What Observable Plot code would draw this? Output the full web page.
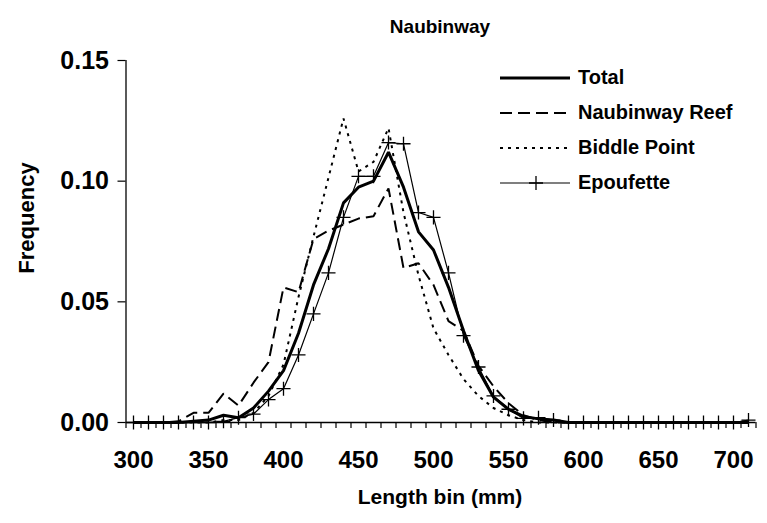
<!DOCTYPE html>
<html><head><meta charset="utf-8">
<script src="https://cdn.jsdelivr.net/npm/d3@7"></script>
<script src="https://cdn.jsdelivr.net/npm/@observablehq/plot@0.6"></script>
<style>
body{margin:0;background:#fff;font-family:"Liberation Sans",Arial,sans-serif;}
#wrap{position:relative;width:767px;height:523px;overflow:hidden;background:#fff}
#title{position:absolute;left:0;width:880px;top:15px;text-align:center;font-weight:bold;font-size:19px;line-height:24px}
#xlabel{position:absolute;left:0;width:880px;top:484px;text-align:center;font-weight:bold;font-size:21px;line-height:26px}
#ylabel{position:absolute;left:27px;top:218px;transform:translate(-50%,-50%) rotate(-90deg);font-weight:bold;font-size:22px;white-space:nowrap}
#legend{position:absolute;left:498px;top:60px}
.row{display:flex;align-items:center;height:35px}
.row span{font-weight:bold;font-size:20px;margin-left:6px;white-space:nowrap}
#chart{position:absolute;left:0;top:0}
</style></head><body>
<div id="wrap"><div id="chart"></div><div id="title">Naubinway</div><div id="xlabel">Length bin (mm)</div><div id="ylabel">Frequency</div><div id="legend"></div></div>
<script>
const bins = [300,310,320,330,340,350,360,370,380,390,400,410,420,430,440,450,460,470,480,490,500,510,520,530,540,550,560,570,580,590,600,610,620,630,640,650,660,670,680,690,700,710];
const total = [0,0,0,0,0.0005,0.001,0.003,0.002,0.006,0.013,0.0215,0.037,0.057,0.072,0.091,0.0975,0.100,0.112,0.0975,0.079,0.0715,0.056,0.038,0.0215,0.0105,0.0055,0.0025,0.0015,0.001,0,0,0,0,0,0,0,0,0,0,0,0,0];
const naubinwayReef = [0,0,0,0.0005,0.004,0.004,0.012,0.007,0.0165,0.025,0.056,0.054,0.076,0.0795,0.082,0.0845,0.0855,0.097,0.064,0.066,0.057,0.042,0.038,0.0235,0.015,0.008,0.003,0.001,0,0,0,0,0,0,0,0,0,0,0,0,0,0];
const biddlePoint = [0,0,0,0,0,0,0.001,0.001,0.004,0.011,0.024,0.052,0.077,0.1015,0.126,0.104,0.108,0.122,0.087,0.061,0.039,0.028,0.018,0.011,0.006,0.003,0.001,0,0,0,0,0,0,0,0,0,0,0,0,0,0,0];
const epoufette = [0,0,0,0,0,0,0.0005,0.002,0.0035,0.0095,0.014,0.028,0.045,0.062,0.085,0.102,0.102,0.116,0.1155,0.087,0.085,0.062,0.036,0.023,0.011,0.0055,0.0017,0.002,0.001,0,0,0,0,0,0,0,0,0,0,0,0,0.001];
const seriesNames = ["Total","Naubinway Reef","Biddle Point","Epoufette"];
const yTicks = [0,0.05,0.10,0.15];
const xTickLabels = [300,350,400,450,500,550,600,650,700];

const styles = {
  "Total": {strokeWidth:3, dash:null},
  "Naubinway Reef": {strokeWidth:2, dash:"12,6"},
  "Biddle Point": {strokeWidth:2, dash:"3,5"},
  "Epoufette": {strokeWidth:1.2, dash:null}
};
const values = {"Total": total, "Naubinway Reef": naubinwayReef, "Biddle Point": biddlePoint, "Epoufette": epoufette};
const rowsOf = name => bins.map((b,i)=>({bin:b, f:values[name][i]}));
const boundaries = bins.map(b=>b-5).concat([bins[bins.length-1]+5]);
const FONT = '"Liberation Sans", Arial, sans-serif';

const lineMarks = seriesNames.map(n => Plot.line(rowsOf(n), {x:"bin", y:"f", stroke:"black", strokeWidth:styles[n].strokeWidth, strokeDasharray:styles[n].dash || undefined, strokeLinejoin:"miter", strokeLinecap:"butt"}));

const chart = Plot.plot({
  width:767, height:523,
  marginLeft:125.5, marginRight:11.5, marginTop:60, marginBottom:101,
  x:{domain:[boundaries[0], boundaries[boundaries.length-1]]},
  y:{domain:[0,0.15]},
  style:{fontFamily:FONT, background:"white", color:"black"},
  marks:[
    Plot.axisY({ticks:yTicks, tickFormat:d3.format(".2f"), tickSize:8, tickPadding:9, fontSize:25, fontWeight:"bold", label:null, strokeWidth:1.2}),
    Plot.axisX({ticks:boundaries, tickSize:6, tickFormat:()=>"", label:null, strokeWidth:1.2}),
    Plot.axisX({ticks:xTickLabels, tickSize:0, tickPadding:28, fontSize:24, fontWeight:"bold", label:null}),
    ...lineMarks,
    Plot.dot(rowsOf("Epoufette"), {x:"bin", y:"f", symbol:"plus", r:4.6, stroke:"black", strokeWidth:1.3}),
    Plot.ruleX([boundaries[0]], {strokeWidth:1.3}),
    Plot.ruleY([0], {strokeWidth:1.3})
  ]
});
document.getElementById("chart").appendChild(chart);

// legend
const legend = document.getElementById("legend");
seriesNames.forEach(n => {
  const row = document.createElement("div"); row.className = "row";
  const s = styles[n];
  const svg = d3.create("svg").attr("width",74).attr("height",20);
  svg.append("line").attr("x1",2).attr("x2",72).attr("y1",10).attr("y2",10)
    .attr("stroke","black").attr("stroke-width",s.strokeWidth).attr("stroke-dasharray",s.dash);
  if (n === "Epoufette") {
    svg.append("path").attr("d",d3.symbol(d3.symbolPlus, Math.PI*4.6*4.6)()).attr("transform","translate(38,10)")
      .attr("stroke","black").attr("fill","none").attr("stroke-width",1.3);
  }
  row.appendChild(svg.node());
  const t = document.createElement("span"); t.textContent = n; row.appendChild(t);
  legend.appendChild(row);
});
</script>
</body></html>
